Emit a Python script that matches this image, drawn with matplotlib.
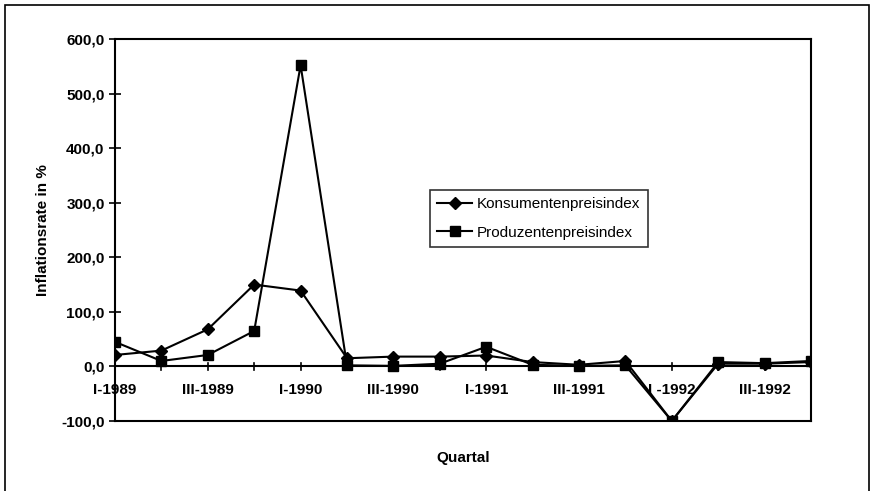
import matplotlib.pyplot as plt
from matplotlib.patches import Rectangle

plt.rcParams["font.family"] = ["Liberation Sans", "DejaVu Sans"]

quarters = ["I-1989", "II-1989", "III-1989", "IV-1989",
            "I-1990", "II-1990", "III-1990", "IV-1990",
            "I-1991", "II-1991", "III-1991", "IV-1991",
            "I-1992", "II-1992", "III-1992", "IV-1992"]
konsumenten = [21, 29, 68, 150, 139, 15, 18, 18, 20, 8, 3, 10, -100, 5, 5, 8]
produzenten = [45, 10, 21, 65, 552, 2, 1, 5, 36, 3, 1, 2, -100, 8, 6, 10]
tick_labels = ["I-1989", "III-1989", "I-1990", "III-1990",
               "I-1991", "III-1991", "I -1992", "III-1992"]
yticks = [-100, 0, 100, 200, 300, 400, 500, 600]

fig = plt.figure(figsize=(8.71, 4.91), dpi=100)
ax = fig.add_axes([115 / 871, 1 - 421 / 491, 696 / 871, 382 / 491])

x = list(range(len(quarters)))
ax.plot(x, konsumenten, color="black", lw=1.5, marker="D", ms=6.5,
        label="Konsumentenpreisindex")
ax.plot(x, produzenten, color="black", lw=1.5, marker="s", ms=7.5,
        label="Produzentenpreisindex")

ax.set_xlim(0, 15)
ax.set_ylim(-100, 600)
ax.set_yticks(yticks)
ax.set_yticklabels([f"{v:.1f}".replace(".", ",") for v in yticks],
                   fontsize=11, fontweight="bold")

# x axis drawn at zero
ax.axhline(0, color="black", lw=1.5, zorder=1)
ax.set_xticks(x)
ax.set_xticklabels([])
for i in x:
    ax.plot([i, i], [-7, 7], color="black", lw=1.2, zorder=1)
for i, lab in enumerate(tick_labels):
    ax.text(2 * i, -30, lab, ha="center", va="top", fontsize=11,
            fontweight="bold")
ax.tick_params(axis="x", length=0)
ax.tick_params(axis="y", direction="inout", length=8, width=1.2)

for s in ax.spines.values():
    s.set_linewidth(1.5)

ax.set_ylabel("Inflationsrate in %", fontsize=11, fontweight="bold", labelpad=8)
ax.set_xlabel("Quartal", fontsize=11, fontweight="bold", labelpad=18)

leg = ax.legend(loc="upper left", bbox_to_anchor=(0.452, 0.606), fontsize=11,
                frameon=True, fancybox=False, edgecolor="black",
                handlelength=2.3, handletextpad=0.3, borderpad=0.5,
                borderaxespad=0, labelspacing=0.95)
leg.get_frame().set_linewidth(1.2)

fig.patches.append(Rectangle((5 / 871, -0.05), 864 / 871, 1 - 5 / 491 + 0.05,
                             transform=fig.transFigure, fill=False,
                             edgecolor="black", lw=1.2))

fig.savefig("out.png", dpi=100)
